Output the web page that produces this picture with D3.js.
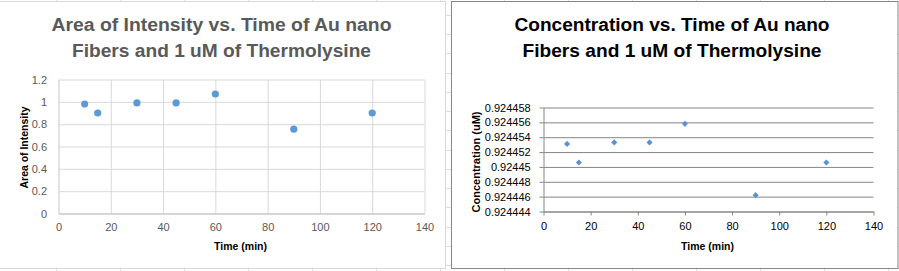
<!DOCTYPE html>
<html>
<head>
<meta charset="utf-8">
<script src="https://cdn.jsdelivr.net/npm/d3@7"></script>
<style>
  body { margin: 0; background: #fff; }
  svg { display: block; }
  .tick text { font-family: "Liberation Sans", Arial, sans-serif; }
</style>
</head>
<body>
<div class="container"></div>
<script>
/********** the Data **********/
const times = [10, 15, 30, 45, 60, 90, 120];
const areaValues = [0.98, 0.90, 0.99, 0.99, 1.07, 0.755, 0.90];
const concValues = [0.9244531, 0.9244506, 0.9244533, 0.9244533, 0.9244558, 0.9244462, 0.9244506];

const xTicks = [0, 20, 40, 60, 80, 100, 120, 140];
const areaTicks = [0, 0.2, 0.4, 0.6, 0.8, 1, 1.2];
const concTicks = [0.924444, 0.924446, 0.924448, 0.92445, 0.924452, 0.924454, 0.924456, 0.924458];

const leftTitle = ["Area of Intensity vs. Time of Au nano", "Fibers and 1 uM of Thermolysine"];
const rightTitle = ["Concentration vs. Time of Au nano", "Fibers and 1 uM of Thermolysine"];

/***** SVG *****/
const width = 899, height = 271;
const svg = d3.select(".container").append("svg")
  .attr("width", width)
  .attr("height", height);

// spreadsheet cell lines peeking out behind the charts
const sheet = svg.append("g").attr("stroke", "#dadcdd").attr("stroke-width", 1);
sheet.selectAll("line.col").data(d3.range(56, width, 64)).join("line")
  .attr("x1", d => d + 0.5).attr("x2", d => d + 0.5)
  .attr("y1", 0).attr("y2", height);
sheet.selectAll("line.row").data(d3.range(15, height, 19.23)).join("line")
  .attr("x1", 0).attr("x2", width)
  .attr("y1", d => Math.round(d) + 0.5).attr("y2", d => Math.round(d) + 0.5);

/***** chart boxes *****/
svg.append("rect")
  .attr("x", -1).attr("y", 1.5).attr("width", 446.5).attr("height", 267)
  .attr("fill", "#fff").attr("stroke", "#d9d9d9");
svg.append("rect")
  .attr("x", 451.5).attr("y", 1.5).attr("width", 446.5).attr("height", 267)
  .attr("fill", "#fff").attr("stroke", "#878787");

function title(lines, cx, color, lengths) {
  svg.append("g").selectAll("text").data(lines).join("text")
    .attr("x", cx)
    .attr("y", (d, i) => 30.5 + i * 26.6)
    .attr("text-anchor", "middle")
    .attr("font-family", "'Liberation Sans', Arial, sans-serif")
    .attr("font-weight", "bold")
    .attr("font-size", 18)
    .attr("fill", color)
    .attr("textLength", (d, i) => lengths[i])
    .attr("lengthAdjust", "spacingAndGlyphs")
    .text(d => d);
}

function axisLabel(txt, x, y, rotate, len) {
  svg.append("text")
    .attr("transform", `translate(${x}, ${y})` + (rotate ? " rotate(-90)" : ""))
    .attr("text-anchor", "middle")
    .attr("font-family", "'Liberation Sans', Arial, sans-serif")
    .attr("font-weight", "bold")
    .attr("font-size", 11)
    .attr("fill", "#000")
    .attr("textLength", len)
    .attr("lengthAdjust", "spacingAndGlyphs")
    .text(txt);
}

/********** left chart: Area of Intensity **********/
let xLeft = d3.scaleLinear().domain([0, 140]).range([58.5, 424.5]);
let yLeft = d3.scaleLinear().domain([0, 1.2]).range([213.5, 79.5]);

title(leftTitle, 221.5, "#595959", [340, 299]);

const gl = svg.append("g").attr("class", "left-chart");

// gridlines
gl.append("g")
  .attr("transform", `translate(0, ${yLeft(0)})`)
  .call(d3.axisBottom(xLeft).tickValues(xTicks).tickSize(-(yLeft(0) - yLeft(1.2))).tickFormat(""))
  .call(g => g.select(".domain").remove())
  .call(g => g.selectAll("line").attr("stroke", "#d9d9d9"));
gl.append("g")
  .attr("transform", `translate(${xLeft(0)}, 0)`)
  .call(d3.axisLeft(yLeft).tickValues(areaTicks).tickSize(-(xLeft(140) - xLeft(0))).tickFormat(""))
  .call(g => g.select(".domain").remove())
  .call(g => g.selectAll("line").attr("stroke", "#d9d9d9"));

// axes
gl.append("g")
  .attr("transform", `translate(0, ${yLeft(0)})`)
  .call(d3.axisBottom(xLeft).tickValues(xTicks).tickSize(0).tickPadding(9.5))
  .call(g => g.select(".domain").attr("stroke", "#bfbfbf"))
  .call(g => g.selectAll("text").attr("font-size", 11).attr("fill", "#595959"));
gl.append("g")
  .attr("transform", `translate(${xLeft(0)}, 0)`)
  .call(d3.axisLeft(yLeft).tickValues(areaTicks).tickSize(0).tickPadding(11.5).tickFormat(d3.format("~g")))
  .call(g => g.select(".domain").attr("stroke", "#d9d9d9"))
  .call(g => g.selectAll("text").attr("font-size", 11).attr("fill", "#595959"));

gl.selectAll("circle").data(times).join("circle")
  .attr("cx", d => xLeft(d))
  .attr("cy", (d, i) => yLeft(areaValues[i]))
  .attr("r", 3.6)
  .attr("fill", "#5b9bd5");

axisLabel("Time (min)", 240.5, 249.5, false, 53);
axisLabel("Area of Intensity", 27.5, 147.5, true, 82);

/********** right chart: Concentration **********/
let xRight = d3.scaleLinear().domain([0, 140]).range([543.5, 873.5]);
let yRight = d3.scaleLinear().domain([0.924444, 0.924458]).range([211.5, 107.5]);

title(rightTitle, 672, "#000", [315, 299]);

const gr = svg.append("g").attr("class", "right-chart");

gr.append("g")
  .attr("transform", `translate(${xRight(0)}, 0)`)
  .call(d3.axisLeft(yRight).tickValues(concTicks).tickSize(-(xRight(140) - xRight(0))).tickFormat(""))
  .call(g => g.select(".domain").remove())
  .call(g => g.selectAll("line").attr("stroke", "#868686"));

gr.append("g")
  .attr("transform", `translate(0, ${yRight(0.924444)})`)
  .call(d3.axisBottom(xRight).tickValues(xTicks).tickSizeInner(4).tickSizeOuter(0).tickPadding(7))
  .call(g => g.selectAll(".domain, line").attr("stroke", "#868686"))
  .call(g => g.selectAll("text").attr("font-size", 11).attr("fill", "#000"));
gr.append("g")
  .attr("transform", `translate(${xRight(0)}, 0)`)
  .call(d3.axisLeft(yRight).tickValues(concTicks).tickSizeInner(4).tickSizeOuter(0).tickPadding(8.8)
    .tickFormat(d => String(+d.toFixed(6))))
  .call(g => g.selectAll(".domain, line").attr("stroke", "#868686"))
  .call(g => g.selectAll("text").attr("font-size", 11).attr("fill", "#000"));

gr.selectAll("path.pt").data(times).join("path")
  .attr("class", "pt")
  .attr("transform", (d, i) => `translate(${xRight(d)}, ${yRight(concValues[i])})`)
  .attr("d", d3.symbol(d3.symbolDiamond2, 24))
  .attr("fill", "#5a92d6");

axisLabel("Time (min)", 707.5, 249.5, false, 53);
axisLabel("Concentration  (uM)", 479.5, 162, true, 101);
</script>
</body>
</html>
